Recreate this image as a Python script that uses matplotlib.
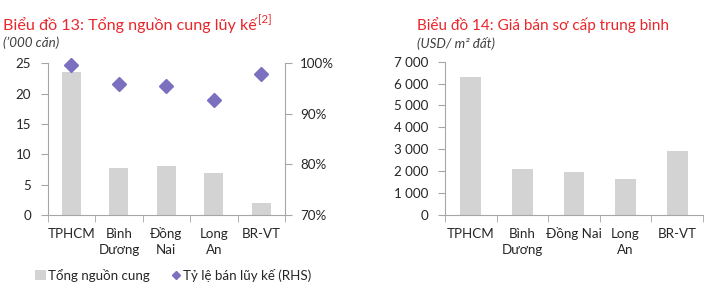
import matplotlib
matplotlib.use("Agg")
import matplotlib.pyplot as plt
from matplotlib.lines import Line2D
from matplotlib.patches import Patch
from matplotlib.ticker import FuncFormatter, FixedLocator

plt.rcParams['font.family'] = ['Lato', 'Noto Sans', 'DejaVu Sans']

# data
provinces_1 = ['TPHCM', 'Bình\nDương', 'Đồng\nNai', 'Long\nAn', 'BR-VT']
supply = [23.6, 7.7, 8.0, 6.9, 2.0]          # '000 căn
sold_rate = [0.997, 0.959, 0.955, 0.927, 0.979]  # RHS

provinces_2 = ['TPHCM', 'Bình\nDương', 'Đồng Nai', 'Long\nAn', 'BR-VT']
price = [6300, 2080, 1950, 1650, 2900]       # USD/m2 đất

BAR = '#d3d3d3'
DIAMOND = '#7b6fbf'
RED = '#e8262b'
AXIS = '#a6a6a6'
TXT = '#262626'
FS = 9.6

W, H = 715, 297
fig = plt.figure(figsize=(W / 100, H / 100), dpi=100)


def px_axes(x0, x1, y_top, y_bot):
    return fig.add_axes([x0 / W, 1 - y_bot / H, (x1 - x0) / W, (y_bot - y_top) / H])


def style(ax, labels):
    n = len(labels)
    ax.set_xlim(-0.5, n - 0.5)
    for s in ['top', 'right']:
        ax.spines[s].set_visible(False)
    for s in ['left', 'bottom']:
        ax.spines[s].set_color(AXIS)
    ax.set_xticks(range(n))
    ax.set_xticklabels(labels, fontsize=FS, color=TXT, linespacing=1.4)
    ax.xaxis.set_minor_locator(FixedLocator([i - 0.5 for i in range(n + 1)]))
    ax.tick_params(axis='x', which='major', length=0, pad=9)
    ax.tick_params(axis='x', which='minor', length=5, color=AXIS)
    ax.tick_params(axis='y', length=5, color=AXIS, labelsize=FS,
                   labelcolor=TXT, pad=7)


# ---- chart 13
ax1 = px_axes(47.7, 285, 63.3, 215)
ax1.bar(range(len(supply)), supply, width=0.4, color=BAR, zorder=1)
ax1.set_ylim(0, 25)
ax1.set_yticks([0, 5, 10, 15, 20, 25])
style(ax1, provinces_1)

ax1r = ax1.twinx()
ax1r.plot(range(len(sold_rate)), sold_rate, linestyle='none', marker='D',
          ms=7.2, color=DIAMOND, zorder=3, clip_on=False)
ax1r.set_ylim(0.7, 1.0)
ax1r.set_yticks([0.7, 0.8, 0.9, 1.0])
ax1r.yaxis.set_major_formatter(FuncFormatter(lambda v, p: f'{v * 100:.0f}%'))
for s in ['top', 'left', 'bottom']:
    ax1r.spines[s].set_visible(False)
ax1r.spines['right'].set_color(AXIS)
ax1r.tick_params(axis='y', length=5, color=AXIS, labelsize=FS,
                 labelcolor=TXT, pad=6)

# ---- chart 14
ax2 = px_axes(445, 703, 61.7, 215)
ax2.bar(range(len(price)), price, width=0.4, color=BAR)
ax2.set_ylim(0, 7000)
ax2.set_yticks(range(0, 7001, 1000))
ax2.yaxis.set_major_formatter(FuncFormatter(lambda v, p: f'{v:,.0f}'.replace(',', ' ')))
style(ax2, provinces_2)

# ---- titles
t1 = fig.text(3 / W, 1 - 25 / H, 'Biểu đồ 13: Tổng nguồn cung lũy kế', color=RED,
              fontsize=11.6, va='center', ha='left')
fig.canvas.draw()
bb = t1.get_window_extent(fig.canvas.get_renderer())
fig.text(bb.x1 / W + 0.002, 1 - 20 / H, '[2]', color=RED, fontsize=8.2, va='center')
fig.text(3 / W, 1 - 43 / H, '(’000 căn)', style='italic', color='#404040',
         fontsize=FS, va='center')

fig.text(417 / W, 1 - 25 / H, 'Biểu đồ 14: Giá bán sơ cấp trung bình', color=RED,
         fontsize=11.0, va='center', ha='left')
fig.text(417 / W, 1 - 43 / H, '(USD/ m² đất)', style='italic', color='#404040',
         fontsize=FS, va='center')

# ---- legend
handles = [Patch(facecolor=BAR, edgecolor='none', label='Tổng nguồn cung'),
           Line2D([], [], linestyle='none', marker='D', ms=4, color=DIAMOND,
                  label='Tỷ lệ bán lũy kế (RHS)')]
fig.legend(handles=handles, loc='center left', bbox_to_anchor=(35 / W, 1 - 275 / H),
           ncol=2, frameon=False, fontsize=FS, handlelength=0.8, handleheight=0.8,
           handletextpad=0.15, columnspacing=1.6, labelcolor=TXT, borderaxespad=0,
           borderpad=0)

fig.savefig('out.png', dpi=100)
